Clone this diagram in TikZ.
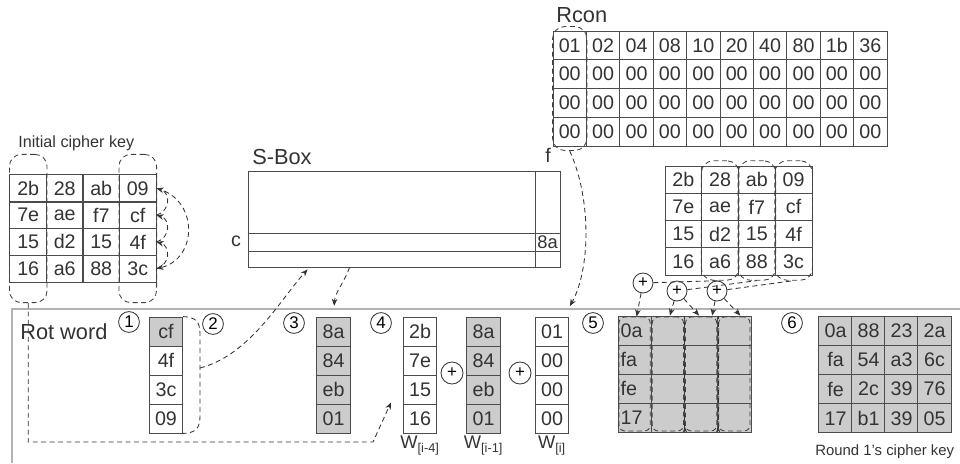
\documentclass[tikz,border=0pt]{standalone}
\usepackage{fontspec}
\setmainfont{Liberation Sans}
\usetikzlibrary{arrows.meta, positioning, calc, fit}

\tikzset{
  keycell/.style={draw=black!70, semithick, inner sep=0pt, minimum width=0.92cm, minimum height=0.68cm, font=\fontsize{14}{16}\selectfont, text=black!80},
  rconcell/.style={keycell, minimum width=0.835cm, minimum height=0.72cm},
  wordcell/.style={keycell, minimum width=0.83cm, minimum height=0.725cm},
  greycell/.style={fill=gray!40},
  newcell/.style={wordcell, greycell, text width=0.7cm, align=left},
  loopbox/.style={draw=black!75, dash pattern=on 3.5pt off 2.5pt, semithick, rounded corners=0.3cm, inner xsep=0pt},
  flow/.style={draw=black!80, dash pattern=on 3.5pt off 2.5pt, semithick, -{Stealth[length=5pt,width=4pt]}},
  link/.style={draw=black!80, dash pattern=on 3.5pt off 2.5pt, semithick},
  stepno/.style={draw=black!80, circle, semithick, minimum size=0.52cm, inner sep=0pt, font=\fontsize{12}{13}\selectfont},
  xorop/.style={draw=black!80, circle, semithick, minimum size=0.55cm, inner sep=0pt, font=\fontsize{12}{13}\selectfont},
  lbl/.style={font=\fontsize{15.5}{17}\selectfont, text=black!80, inner sep=0pt},
  small lbl/.style={font=\fontsize{11.5}{13}\selectfont, text=black!80, inner sep=0pt},
  wlbl/.style={font=\fontsize{13}{15}\selectfont, text=black!80, inner sep=0pt},
}

\begin{document}
\begin{tikzpicture}[x=0.025cm, y=-0.025cm]
    \useasboundingbox (0,0) rectangle (960,463);

    % Initial cipher key
    \node[small lbl, anchor=base west] (cklabel) at (18,147) {Initial cipher key};
    \foreach \row [count=\r] in {{2b,28,ab,09},{7e,ae,f7,cf},{15,d2,15,4f},{16,a6,88,3c}}
        \foreach \v [count=\c] in \row
            \node[keycell] (ck\r\c) at ({10+36.5*(\c-0.5)},{175+26.75*(\r-0.5)}) {\v};
    \node[loopbox, inner ysep=0.5cm, fit=(ck11)(ck41)] (ckcol1) {};
    \node[loopbox, inner ysep=0.5cm, fit=(ck14)(ck44)] (ckcol4) {};

    % rotate the last word
    \draw[flow] (ck24.east) .. controls +(14,-4) and +(14,4) .. (ck14.east);
    \draw[flow] (ck34.east) .. controls +(14,-4) and +(14,4) .. (ck24.east);
    \draw[flow] (ck44.east) .. controls +(14,-4) and +(14,4) .. (ck34.east);
    \draw[flow] (ck14.east) .. controls +(42,10) and +(42,-10) .. (ck44.east);

    % S-Box
    \node[lbl, anchor=base west] (sboxlabel) at (252,164) {S-Box};
    \node[draw=black!70, semithick, minimum width=7.8cm, minimum height=2.4cm] (sbox) at (404,219) {};
    \draw[black!70, semithick] ($(sbox.north east)+(-25,0)$) -- ($(sbox.south east)+(-25,0)$);
    \draw[black!70, semithick] ($(sbox.west)+(0,14)$) -- ($(sbox.east)+(0,14)$);
    \draw[black!70, semithick] ($(sbox.west)+(0,32)$) -- ($(sbox.east)+(0,32)$);
    \node[lbl, font=\fontsize{13}{15}\selectfont] (sbox8a) at (547.5,242) {8a};
    \node[lbl, font=\fontsize{14}{16}\selectfont] (rowc) at (236,241) {c};
    \node[lbl, font=\fontsize{14}{16}\selectfont] (colf) at (548,155) {f};

    % Rcon
    \node[lbl, anchor=base west] (rconlabel) at (556,22) {Rcon};
    \foreach \row [count=\r] in {{01,02,04,08,10,20,40,80,1b,36},{00,00,00,00,00,00,00,00,00,00},{00,00,00,00,00,00,00,00,00,00},{00,00,00,00,00,00,00,00,00,00}}
        \foreach \v [count=\c] in \row
            \node[rconcell] (rc\r-\c) at ({553+33.4*(\c-0.5)},{31+28.75*(\r-0.5)}) {\v};
    \node[loopbox, inner ysep=0.1cm, fit=(rc1-1)(rc4-1)] (rcloop) {};

    % cipher key again, for the other words
    \foreach \row [count=\r] in {{2b,28,ab,09},{7e,ae,f7,cf},{15,d2,15,4f},{16,a6,88,3c}}
        \foreach \v [count=\c] in \row
            \node[keycell] (tk\r\c) at ({665+36.75*(\c-0.5)},{166+27.25*(\r-0.5)}) {\v};
    \foreach \c in {2,3,4}
        \node[loopbox, inner ysep=0.12cm, fit=(tk1\c)(tk4\c)] (tkcol\c) {};

    % Rot word frame
    \draw[gray!60, line width=0.07cm] (12,463) -- (12,309) -- (960,309);
    \node[lbl, anchor=base west] (rotlabel) at (20,339) {Rot word};

    \node[stepno] (step1) at (129,322) {1};
    \node[stepno] (step2) at (213,324) {2};
    \node[stepno] (step3) at (294,323) {3};
    \node[stepno] (step4) at (381,323) {4};
    \node[stepno] (step5) at (593,323) {5};
    \node[stepno] (step6) at (792,323) {6};

    % words
    \foreach \v/\s [count=\r] in {cf/greycell,4f/,3c/,09/}
        \node[wordcell,\s] (rw\r) at (166,{317+29*(\r-0.5)}) {\v};
    \foreach \v [count=\r] in {8a,84,eb,01}
        \node[wordcell,greycell] (sb\r) at (333.5,{317+29*(\r-0.5)}) {\v};
    \foreach \v [count=\r] in {2b,7e,15,16}
        \node[wordcell] (wa\r) at (420,{317+29*(\r-0.5)}) {\v};
    \foreach \v [count=\r] in {8a,84,eb,01}
        \node[wordcell,greycell] (wb\r) at (483.5,{317+29*(\r-0.5)}) {\v};
    \foreach \v [count=\r] in {01,00,00,00}
        \node[wordcell] (wi\r) at (552,{317+29*(\r-0.5)}) {\v};
    \node[xorop] (xor1) at (452,373) {+};
    \node[xorop] (xor2) at (520,373) {+};
    \node[wlbl, below=0.06cm of wa4] (walabel) {W\textsubscript{[i-4]}};
    \node[wlbl, below=0.06cm of wb4] (wblabel) {W\textsubscript{[i-1]}};
    \node[wlbl, below=0.06cm of wi4] (wilabel) {W\textsubscript{[i]}};

    % rot word to S-Box and back
    \draw[link] (rw1.north east) .. controls (196,317) and (200,322) .. (200,334) -- (200,416) .. controls (200,428) and (196,433) .. (rw4.south east);
    \coordinate (rwmid) at (200,368);
    \draw[flow] (rwmid) .. controls (250,355) and (280,300) .. ($(sbox.south west)+(60,2)$);
    \draw[flow, shorten >=0.27cm] ($(sbox.south west)+(102,0)$) .. controls (343,285) and (335,292) .. (sb1.north);
    \draw[flow] (ckcol1.south) |- (373,442) -- ($(wa3.south west)+(-12,-2)$);
    \draw[flow, shorten >=0.3cm] (rcloop.south) .. controls (592,200) and (590,270) .. ($(wi1.north)+(12,0)$);

    % new key words
    \foreach \r/\v in {1/0a,2/fa,3/fe,4/17}
        \foreach \c in {1,...,4}
            \node[newcell] (nk\r\c) at ({618+33.25*(\c-0.5)},{316+29*(\r-0.5)}) {\ifnum\c=1 \v\fi};
    \foreach \c in {1,...,4}
        \node[loopbox, rounded corners=0.15cm, inner sep=-1pt, fit=(nk1\c)(nk4\c)] (nkcol\c) {};
    \draw[link, thick, {Stealth[reversed,length=4pt,width=3pt]}-] (nk42.south east) -- (nk12.north east);
    \draw[link, thick, {Stealth[reversed,length=4pt,width=3pt]}-] (nk43.south east) -- (nk13.north east);

    \node[xorop, minimum size=0.5cm] (xa) at (643,283) {+};
    \node[xorop, minimum size=0.5cm] (xb) at (677,291) {+};
    \node[xorop, minimum size=0.5cm] (xc) at (717,291) {+};
    \draw[link] (xa) -- (tkcol2.south);
    \draw[link] (xb) -- (tkcol3.south);
    \draw[link] (xc) -- (tkcol4.south);
    \draw[flow] (xa) -- ($(nkcol1.north)+(2,0)$);
    \draw[flow] (xb) -- ($(nk12.north)+(2,0)$);
    \draw[flow] (xb) -- ($(nk13.north)+(-2,0)$);
    \draw[flow] (xc) -- ($(nk13.north east)+(-6,0)$);
    \draw[flow] (xc) -- ($(nk14.north)+(6,0)$);

    % round 1 key
    \foreach \row [count=\r] in {{0a,88,23,2a},{fa,54,a3,6c},{fe,2c,39,76},{17,b1,39,05}}
        \foreach \v [count=\c] in \row
            \node[wordcell, greycell] (rk\r\c) at ({819+33*(\c-0.5)},{316+29.25*(\r-0.5)}) {\v};
    \node[small lbl, font=\fontsize{10.6}{12}\selectfont, anchor=base west] (r1label) at (815,455) {Round 1's cipher key};
\end{tikzpicture}
\end{document}
